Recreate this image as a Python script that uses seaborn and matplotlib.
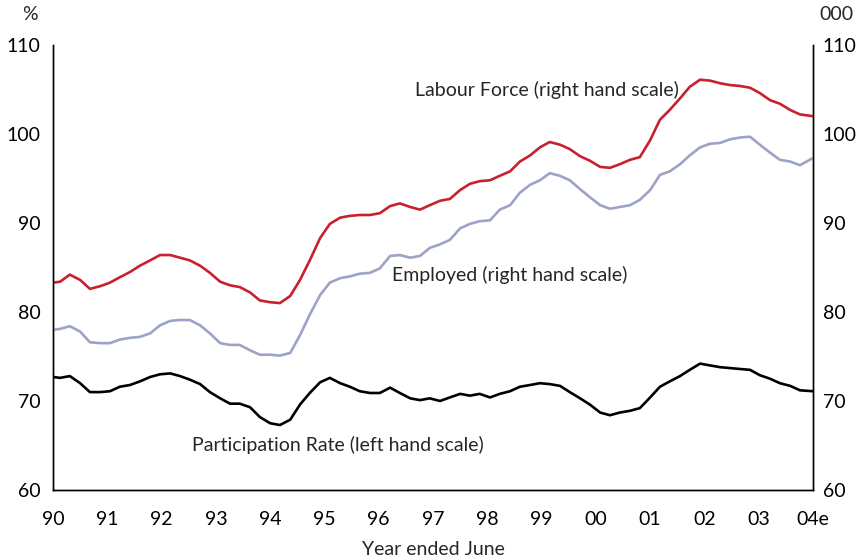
import numpy as np
import pandas as pd
import matplotlib
matplotlib.use("Agg")
import matplotlib.pyplot as plt
import seaborn as sns

years = [1990.00, 1990.13, 1990.31, 1990.50, 1990.68, 1990.87, 1991.05, 1991.23, 1991.42, 1991.60,
         1991.79, 1991.97, 1992.16, 1992.34, 1992.52, 1992.71, 1992.89, 1993.08, 1993.26, 1993.44,
         1993.63, 1993.81, 1994.00, 1994.18, 1994.37, 1994.55, 1994.73, 1994.92, 1995.10, 1995.29,
         1995.47, 1995.65, 1995.84, 1996.02, 1996.21, 1996.39, 1996.58, 1996.76, 1996.94, 1997.13,
         1997.31, 1997.50, 1997.68, 1997.86, 1998.05, 1998.23, 1998.42, 1998.60, 1998.79, 1998.97,
         1999.15, 1999.34, 1999.52, 1999.71, 1999.89, 2000.08, 2000.26, 2000.44, 2000.63, 2000.81,
         2001.00, 2001.18, 2001.36, 2001.55, 2001.73, 2001.92, 2002.10, 2002.29, 2002.47, 2002.65,
         2002.84, 2003.02, 2003.21, 2003.39, 2003.58, 2003.76, 2004.00]

labour_force = [83.3, 83.4, 84.2, 83.6, 82.6, 82.9, 83.3, 83.9, 84.5, 85.2,
                85.8, 86.4, 86.4, 86.1, 85.8, 85.2, 84.4, 83.4, 83.0, 82.8,
                82.2, 81.3, 81.1, 81.0, 81.8, 83.6, 85.8, 88.3, 89.9, 90.6,
                90.8, 90.9, 90.9, 91.1, 91.9, 92.2, 91.8, 91.5, 92.0, 92.5,
                92.7, 93.7, 94.4, 94.7, 94.8, 95.3, 95.8, 96.9, 97.6, 98.5,
                99.1, 98.8, 98.3, 97.5, 97.0, 96.3, 96.2, 96.6, 97.1, 97.4,
                99.3, 101.6, 102.7, 104.0, 105.3, 106.1, 106.0, 105.7, 105.5, 105.4,
                105.2, 104.6, 103.8, 103.4, 102.7, 102.2, 102.0]

employed = [78.0, 78.1, 78.4, 77.8, 76.6, 76.5, 76.5, 76.9, 77.1, 77.2,
            77.6, 78.5, 79.0, 79.1, 79.1, 78.5, 77.6, 76.5, 76.3, 76.3,
            75.7, 75.2, 75.2, 75.1, 75.4, 77.4, 79.7, 81.9, 83.3, 83.8,
            84.0, 84.3, 84.4, 84.9, 86.3, 86.4, 86.1, 86.3, 87.2, 87.6,
            88.1, 89.4, 89.9, 90.2, 90.3, 91.5, 92.0, 93.4, 94.3, 94.8,
            95.6, 95.3, 94.8, 93.8, 92.9, 92.0, 91.6, 91.8, 92.0, 92.6,
            93.7, 95.4, 95.8, 96.6, 97.6, 98.5, 98.9, 99.0, 99.4, 99.6,
            99.7, 98.8, 97.9, 97.1, 96.9, 96.5, 97.3]

participation = [72.7, 72.6, 72.8, 72.0, 71.0, 71.0, 71.1, 71.6, 71.8, 72.2,
                 72.7, 73.0, 73.1, 72.8, 72.4, 71.9, 71.0, 70.3, 69.7, 69.7,
                 69.3, 68.2, 67.5, 67.3, 67.9, 69.6, 70.9, 72.1, 72.6, 72.0,
                 71.6, 71.1, 70.9, 70.9, 71.5, 70.9, 70.3, 70.1, 70.3, 70.0,
                 70.4, 70.8, 70.6, 70.8, 70.4, 70.8, 71.1, 71.6, 71.8, 72.0,
                 71.9, 71.7, 71.0, 70.3, 69.6, 68.7, 68.4, 68.7, 68.9, 69.2,
                 70.4, 71.6, 72.2, 72.8, 73.5, 74.2, 74.0, 73.8, 73.7, 73.6,
                 73.5, 72.9, 72.5, 72.0, 71.7, 71.2, 71.1]

x_tick_years = list(range(1990, 2005))
x_tick_labels = ["90", "91", "92", "93", "94", "95", "96", "97", "98", "99",
                 "00", "01", "02", "03", "04e"]
y_ticks = [60, 70, 80, 90, 100, 110]

df = pd.DataFrame({"year": years, "lf": labour_force, "emp": employed, "part": participation})

sns.set_theme(style="white")
plt.rcParams["font.family"] = ["Lato", "DejaVu Sans"]

fig = plt.figure(figsize=(8.64, 5.6), dpi=100)
ax = fig.add_axes([53/864, 1-490/560, 760/864, 445/560])
ax2 = ax.twinx()

sns.lineplot(data=df, x="year", y="part", ax=ax, color="black", linewidth=1.9)
sns.lineplot(data=df, x="year", y="lf", ax=ax2, color="#C8202F", linewidth=1.9)
sns.lineplot(data=df, x="year", y="emp", ax=ax2, color="#9CA3C6", linewidth=1.9)

fs = 14
for a in (ax, ax2):
    a.set_xlim(1990, 2004)
    a.set_ylim(60, 110)
    a.set_yticks(y_ticks)
    a.set_ylabel("")
    a.spines["top"].set_visible(False)
    for s in ("left", "right", "bottom"):
        a.spines[s].set_visible(True)
        a.spines[s].set_color("black")
        a.spines[s].set_linewidth(1.0)
    a.tick_params(axis="both", length=0, labelsize=fs, colors="black")
    a.grid(False)

ax.set_yticklabels([str(v) for v in y_ticks])
ax.tick_params(axis="y", pad=9)
ax2.tick_params(axis="y", pad=7)
ax.set_xticks(x_tick_years)
ax.set_xticklabels(x_tick_labels)
ax.tick_params(axis="x", pad=15)
ax.set_xlabel("Year ended June", fontsize=fs, labelpad=9.5)
ax2.set_xlabel("")

fig.text(30/864, 1-15/560, "%", fontsize=fs, ha="center", va="center")
fig.text(836/864, 1-15/560, "000", fontsize=fs, ha="center", va="center")

ax2.text(1999.1, 104.9, "Labour Force (right hand scale)", fontsize=fs, ha="center", va="center")
ax2.text(1998.42, 84.2, "Employed (right hand scale)", fontsize=fs, ha="center", va="center")
ax.text(1995.25, 65.1, "Participation Rate (left hand scale)", fontsize=fs, ha="center", va="center")

fig.savefig("out.png", dpi=100)
